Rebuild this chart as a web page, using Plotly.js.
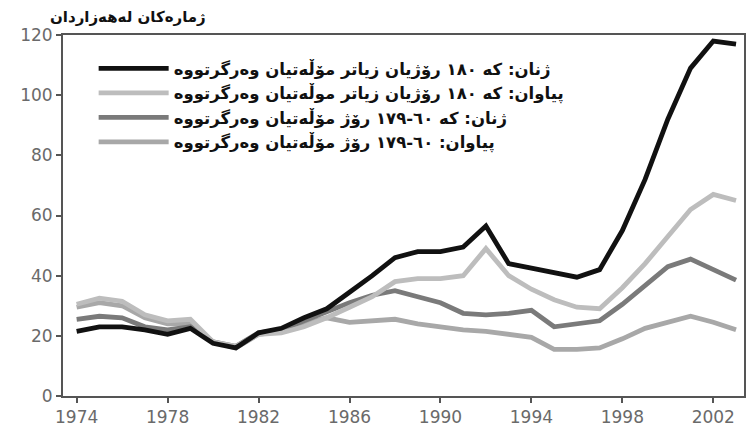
<!DOCTYPE html>
<html>
<head>
<meta charset="utf-8">
<script src="https://cdn.plot.ly/plotly-3.0.1.min.js"></script>
<style>html,body{margin:0;padding:0;background:#fff;}#chart{width:748px;height:427px;}</style>
</head>
<body>
<div id="chart"></div>
<script>
const years = [1974,1975,1976,1977,1978,1979,1980,1981,1982,1983,1984,1985,1986,1987,1988,1989,1990,1991,1992,1993,1994,1995,1996,1997,1998,1999,2000,2001,2002,2003];
const women180 = [21.5,23,23,22,20.5,22.5,17.5,16,21,22.5,26,29,34.5,40,46,48,48,49.5,56.5,44,42.5,41,39.5,42,55,72,92,109,118,117];
const men180   = [30.5,32.5,31.5,27,25,25.5,18,16.5,20.5,21,23,26,29.5,33,38,39,39,40,49,40,35.5,32,29.5,29,36,44,53,62,67,65];
const women60  = [25.5,26.5,26,23,22,23,18,16.5,21,22,25,28,31,33.5,35,33,31,27.5,27,27.5,28.5,23,24,25,30.5,37,43,45.5,42,38.5];
const men60    = [29.5,31,30,26,24,24,18,16,20.5,21.5,24,26,24.5,25,25.5,24,23,22,21.5,20.5,19.5,15.5,15.5,16,19,22.5,24.5,26.5,24.5,22];
const seriesNames = [
  'ژنان: که ١٨٠ رۆژیان زیاتر مۆڵەتیان وەرگرتووە',
  'پیاوان: که ١٨٠ رۆژیان زیاتر موڵەتیان وەرگرتووە',
  'ژنان: که ٦٠-١٧٩ رۆژ مۆڵەتیان وەرگرتووە',
  'پیاوان: ٦٠-١٧٩ رۆژ مۆڵەتیان وەرگرتووە'
];
const seriesColors = ['#111111','#bdbdbd','#7a7a7a','#a8a8a8'];
const yTitle = 'ژمارەکان لەهەزاردان';
const xTicks = [1974,1978,1982,1986,1990,1994,1998,2002];
const yTicks = [0,20,40,60,80,100,120];

const allSeries = [women180, men180, women60, men60];
const traces = allSeries.map((vals, i) => ({
  x: years, y: vals, type: 'scatter', mode: 'lines',
  name: '<b>' + seriesNames[i] + '</b>',
  line: {color: seriesColors[i], width: 4.8}
}));
// draw black on top
const ordered = [traces[3], traces[2], traces[1], traces[0]];

const tickFont = {family: 'DejaVu Sans, sans-serif', size: 17, color: '#6a6a6a'};

const layout = {
  width: 748, height: 427,
  margin: {l: 63, r: 4, t: 35, b: 31},
  paper_bgcolor: '#ffffff', plot_bgcolor: '#ffffff',
  showlegend: true,
  legend: {
    x: 0.045, y: 0.955, xanchor: 'left', yanchor: 'top',
    traceorder: 'reversed',
    bgcolor: 'rgba(0,0,0,0)',
    font: {family: 'DejaVu Sans', size: 16.5, color: '#111'},
    itemwidth: 70
  },
  xaxis: {
    range: [1973.4, 2003.35], tickvals: xTicks, ticktext: xTicks.map(String),
    ticks: 'outside', ticklen: 5, tickwidth: 2, tickcolor: '#555',
    showline: true, linecolor: '#555', linewidth: 2, mirror: true,
    showgrid: false, zeroline: false,
    tickfont: tickFont
  },
  yaxis: {
    range: [0, 120], tickvals: yTicks,
    ticks: 'outside', ticklen: 5, tickwidth: 2, tickcolor: '#555',
    showline: true, linecolor: '#555', linewidth: 2, mirror: true,
    showgrid: false, zeroline: false,
    tickfont: tickFont
  },
  annotations: [{
    text: '<b>' + yTitle + '</b>', xref: 'paper', yref: 'paper',
    x: 0.095, y: 1.05, xanchor: 'center', yanchor: 'middle', showarrow: false,
    font: {family: 'DejaVu Sans', size: 15, color: '#111'}
  }]
};
Plotly.newPlot('chart', ordered, layout, {displayModeBar: false, staticPlot: true});
</script>
</body>
</html>
